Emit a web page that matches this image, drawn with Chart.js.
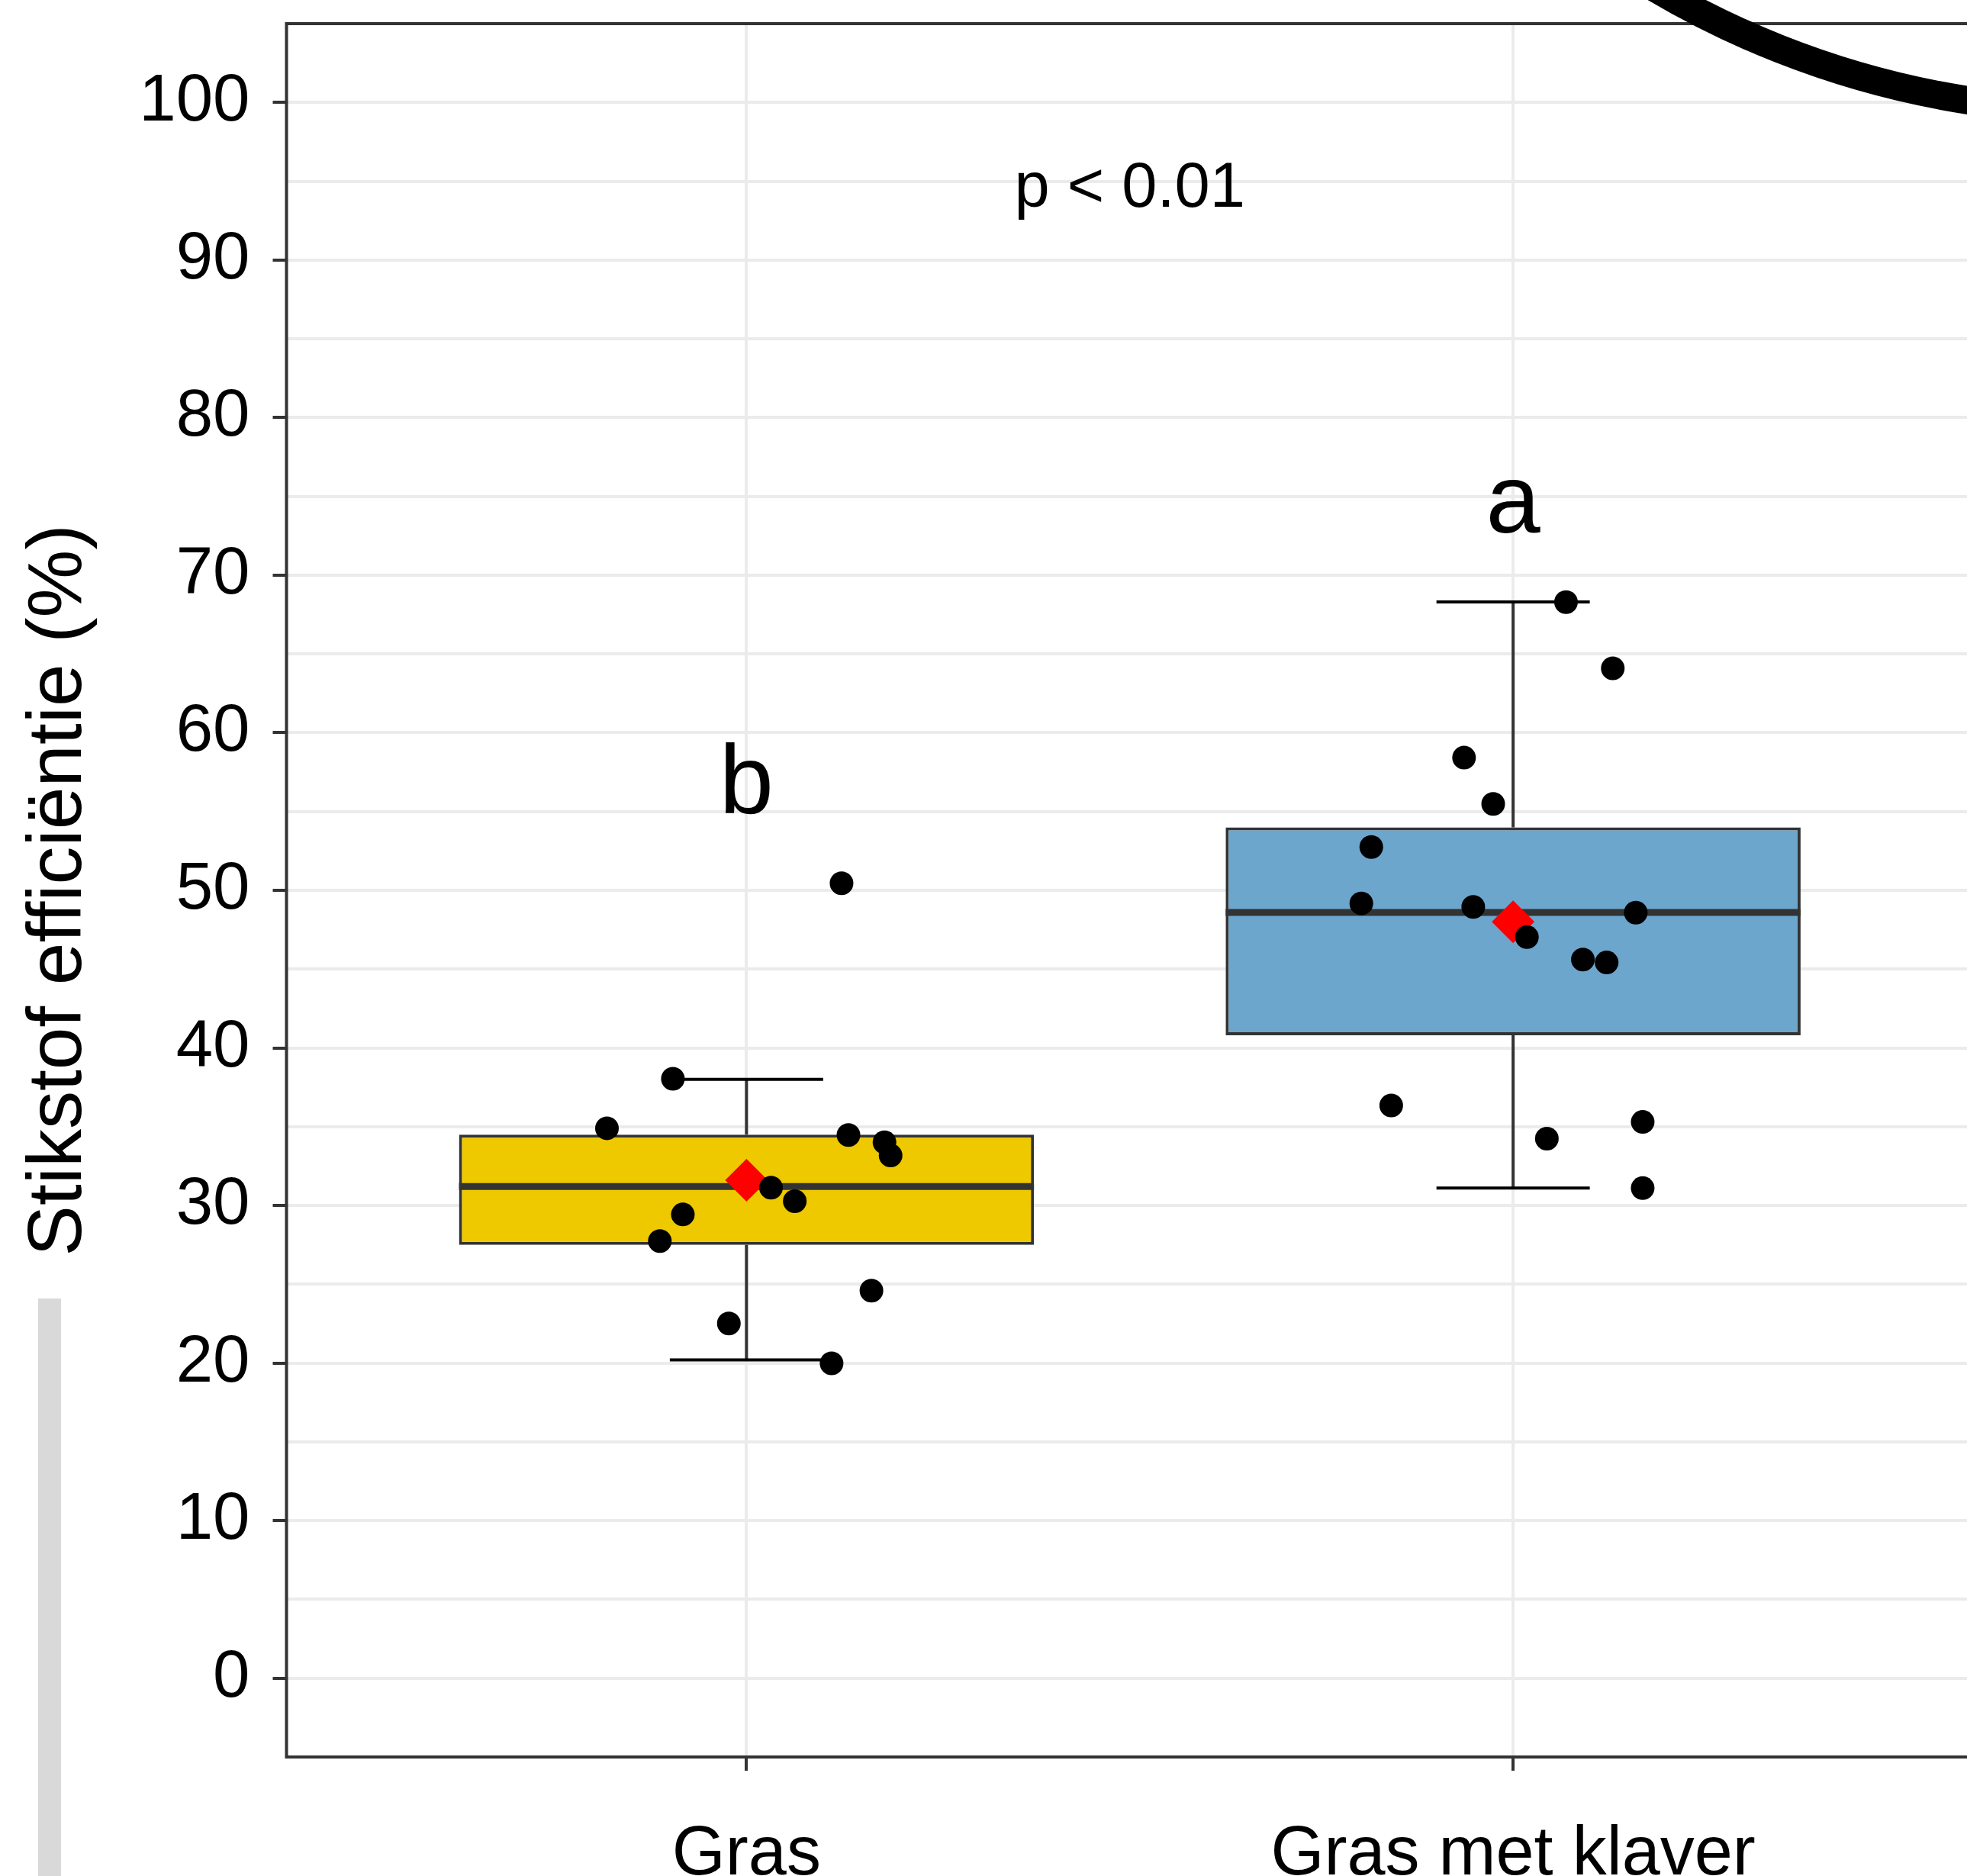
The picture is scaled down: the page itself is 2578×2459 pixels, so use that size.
<!DOCTYPE html>
<html lang="nl">
<head>
    <meta charset="UTF-8">
    <title>Stikstof efficiëntie</title>
    <style>
        html, body {
            margin: 0;
            padding: 0;
            overflow: hidden;
            background: #fff;
        }
        #wrap {
            position: absolute;
            left: 0;
            top: 0;
            width: 2614px;
            height: 2459px;
        }
        /* grijze balk links onderin (rand van een naastgelegen paneel) */
        .greybar {
            position: absolute;
            left: 50px;
            top: 1702px;
            width: 30px;
            height: 757px;
            background: #d9d9d9;
        }
        /* zwarte omcirkeling rechtsboven */
        #arc {
            position: absolute;
            left: 0;
            top: 0;
            pointer-events: none;
        }
    </style>
</head>
<body>
    <div id="wrap">
        <canvas id="chart" width="2614" height="2459"></canvas>
    </div>
    <div class="greybar"></div>
    <svg id="arc" width="2578" height="2459">
        <circle cx="2757" cy="-1010" r="1155" fill="none" stroke="#000" stroke-width="37"></circle>
    </svg>

    <script src="https://cdn.jsdelivr.net/npm/chart.js"></script>
    <script>
        const categories = ['Gras', 'Gras met klaver'];
        const boxColors = ['#eec900', '#6ca6cd'];
        const q1 = [27.5, 40.8];
        const medians = [31.2, 48.6];
        const q3 = [34.5, 54.0];
        const whiskerLow = [20.2, 31.1];
        const whiskerHigh = [38.0, 68.3];
        const means = [31.6, 48.0];

        // Losse waarnemingen (met jitter op x)
        const grasX = [1.124, 0.904, 0.818, 1.133, 1.180, 1.188, 1.032, 1.063, 0.917, 0.887, 1.163, 0.977, 1.111];
        const grasY = [50.45, 38.04, 34.9, 34.47, 34.01, 33.17, 31.13, 30.27, 29.43, 27.74, 24.59, 22.51, 19.98];
        const klaverX = [2.069, 2.130, 1.936, 1.974, 1.815, 1.802, 1.948, 2.018, 2.160, 2.091, 2.122, 1.841, 2.169, 2.044, 2.169];
        const klaverY = [68.29, 64.09, 58.42, 55.48, 52.75, 49.17, 48.95, 47.03, 48.58, 45.61, 45.42, 36.35, 35.30, 34.24, 31.10];

        // Letters (significantiegroepen) en p-waarde
        const letters = ['b', 'a'];
        const letterY = [54.9, 72.7];
        const pLabel = 'p < 0.01';
        const pX = 1.5;
        const pY = 93.4;

        // Y-as: lijnen om de 5, labels om de 10
        const yGrid = [0, 5, 10, 15, 20, 25, 30, 35, 40, 45, 50, 55, 60, 65, 70, 75, 80, 85, 90, 95, 100];

        const FONT = '"Liberation Sans", Arial, sans-serif';
        Chart.defaults.font.family = FONT;
        Chart.defaults.color = '#000';

        const points = grasX.map((x, i) => ({ x: x, y: grasY[i] }))
            .concat(klaverX.map((x, i) => ({ x: x, y: klaverY[i] })));

        function line(ctx, x1, y1, x2, y2) {
            ctx.beginPath();
            ctx.moveTo(x1, y1);
            ctx.lineTo(x2, y2);
            ctx.stroke();
        }

        // geen extra randruimte voor de labels, de layout-padding bepaalt het paneel
        function noPadding(s) {
            s.paddingTop = 0;
            s.paddingBottom = 0;
            s.paddingLeft = 0;
            s.paddingRight = 0;
        }

        // Snorharen, medianen, rand en teksten
        const boxplotExtras = {
            id: 'boxplotExtras',
            beforeDatasetsDraw(chart) {
                const { ctx, scales: { x, y } } = chart;
                ctx.save();
                categories.forEach((c, i) => {
                    const px = x.getPixelForValue(i + 1);
                    const half = x.getPixelForValue(i + 1.1) - px;
                    ctx.lineWidth = 4;
                    ctx.strokeStyle = '#333';
                    line(ctx, px, y.getPixelForValue(q3[i]), px, y.getPixelForValue(whiskerHigh[i]));
                    line(ctx, px, y.getPixelForValue(q1[i]), px, y.getPixelForValue(whiskerLow[i]));
                    ctx.strokeStyle = '#000';
                    line(ctx, px - half, y.getPixelForValue(whiskerHigh[i]), px + half, y.getPixelForValue(whiskerHigh[i]));
                    line(ctx, px - half, y.getPixelForValue(whiskerLow[i]), px + half, y.getPixelForValue(whiskerLow[i]));
                });
                ctx.restore();
            },
            afterDatasetDraw(chart, args) {
                if (args.meta.type !== 'bar') return;
                const { ctx, scales: { x, y } } = chart;
                ctx.save();
                ctx.lineWidth = 9;
                ctx.strokeStyle = '#333';
                categories.forEach((c, i) => {
                    const py = y.getPixelForValue(medians[i]);
                    line(ctx, x.getPixelForValue(i + 1 - 0.375), py, x.getPixelForValue(i + 1 + 0.375), py);
                });
                ctx.restore();
            },
            afterDatasetsDraw(chart) {
                const { ctx, chartArea: a, scales: { x, y } } = chart;
                ctx.save();
                // paneelrand
                ctx.lineWidth = 4;
                ctx.strokeStyle = '#333';
                ctx.strokeRect(a.left, a.top, a.right - a.left, a.bottom - a.top);
                // letters
                ctx.fillStyle = '#000';
                ctx.textAlign = 'center';
                ctx.textBaseline = 'alphabetic';
                ctx.font = '128px ' + FONT;
                letters.forEach((l, i) => {
                    ctx.fillText(l, x.getPixelForValue(i + 1), y.getPixelForValue(letterY[i]));
                });
                // p-waarde
                ctx.font = '83px ' + FONT;
                ctx.fillText(pLabel, x.getPixelForValue(pX), y.getPixelForValue(pY));
                ctx.restore();
            }
        };

        const ctx = document.getElementById('chart').getContext('2d');

        new Chart(ctx, {
            type: 'bar',
            data: {
                datasets: [
                    {
                        type: 'scatter',
                        data: points,
                        backgroundColor: '#000',
                        borderWidth: 0,
                        pointRadius: 15.5,
                        order: 0
                    },
                    {
                        type: 'scatter',
                        data: means.map((m, i) => ({ x: i + 1, y: m })),
                        pointStyle: 'rectRot',
                        pointRadius: 28,
                        backgroundColor: '#ff0000',
                        borderWidth: 0,
                        order: 1
                    },
                    {
                        type: 'bar',
                        data: categories.map((c, i) => ({ x: i + 1, y: [q1[i], q3[i]] })),
                        backgroundColor: boxColors,
                        borderColor: '#333',
                        borderWidth: 4,
                        borderSkipped: false,
                        barPercentage: 0.75,
                        categoryPercentage: 1,
                        order: 2
                    }
                ]
            },
            options: {
                responsive: false,
                animation: false,
                devicePixelRatio: 1,
                layout: { padding: { top: 31, right: 1, bottom: 0, left: 0 } },
                plugins: {
                    legend: { display: false },
                    tooltip: { enabled: false }
                },
                scales: {
                    x: {
                        type: 'linear',
                        min: 0.4,
                        max: 2.6,
                        offset: false,
                        afterBuildTicks: (s) => { s.ticks = categories.map((c, i) => ({ value: i + 1 })); },
                        afterFit: (s) => { s.height = 156; noPadding(s); },
                        ticks: {
                            autoSkip: false,
                            maxRotation: 0,
                            padding: 57,
                            font: { size: 90 },
                            color: '#000',
                            callback: (v, i) => categories[i]
                        },
                        grid: {
                            offset: false,
                            color: '#ebebeb',
                            lineWidth: 4,
                            tickLength: 18,
                            tickWidth: 4,
                            tickColor: '#333'
                        },
                        border: { display: false }
                    },
                    y: {
                        min: -5,
                        max: 105,
                        afterBuildTicks: (s) => { s.ticks = yGrid.map(v => ({ value: v })); },
                        afterFit: (s) => { s.width = 375.5; noPadding(s); },
                        ticks: {
                            autoSkip: false,
                            padding: 30,
                            font: { size: 87 },
                            color: '#000',
                            callback: (v) => (v % 10 === 0 ? v : '')
                        },
                        grid: {
                            color: '#ebebeb',
                            lineWidth: 4,
                            tickLength: 18,
                            tickWidth: 4,
                            tickColor: (c) => (c.tick && c.tick.value % 10 === 0 ? '#333' : 'rgba(0,0,0,0)')
                        },
                        border: { display: false },
                        title: {
                            display: true,
                            text: 'Stikstof efficiëntie (%)',
                            font: { size: 100 },
                            color: '#000',
                            padding: { top: 18, bottom: 0 }
                        }
                    }
                }
            },
            plugins: [boxplotExtras]
        });
    </script>
</body>
</html>
